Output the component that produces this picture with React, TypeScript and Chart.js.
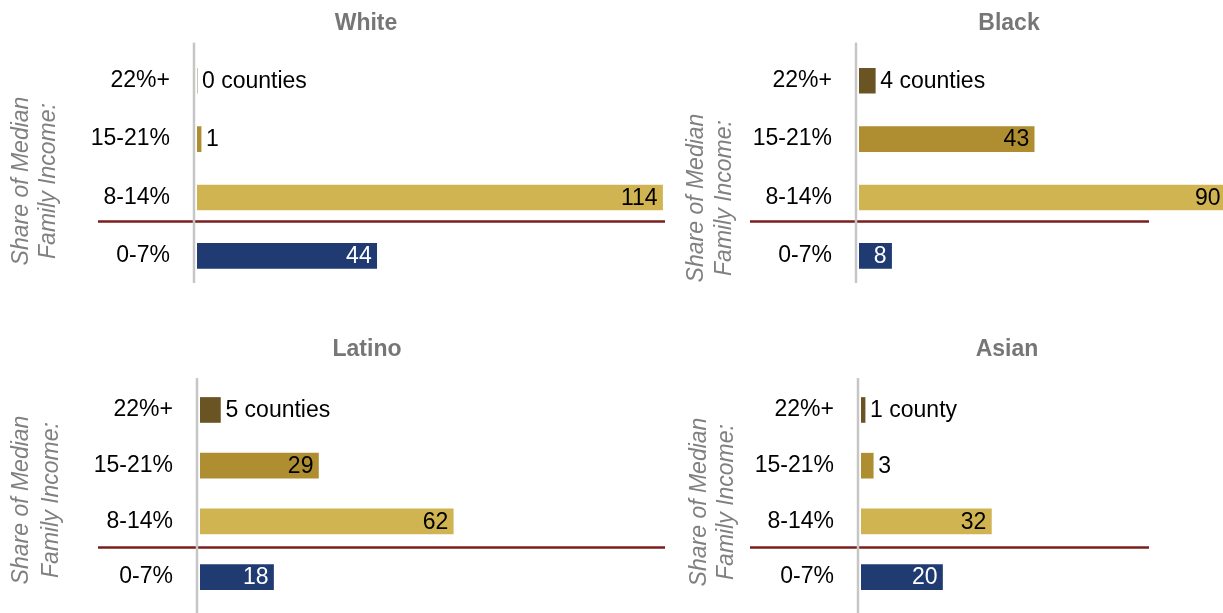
import React, { useEffect, useRef } from "react";
import { Chart, registerables } from "chart.js";

Chart.register(...registerables);

// ---------- data ----------
const categories = ["22%+", "15-21%", "8-14%", "0-7%"];
const whiteValues = [0, 1, 114, 44];
const blackValues = [4, 43, 90, 8];
const latinoValues = [5, 29, 62, 18];
const asianValues = [1, 3, 32, 20];
const panelTitles = ["White", "Black", "Latino", "Asian"];
const axisTitleLines = ["Share of Median", "Family Income:"];

// ---------- styles ----------
const barColors = ["#6b5424", "#ae8e30", "#d1b452", "#1f3b71"];
const insideLabelColors = ["#000000", "#000000", "#000000", "#ffffff"];
const FONT = "'Liberation Sans', Arial, Helvetica, sans-serif";
const FONT_SIZE = 23;
const Y_AXIS_WIDTH = 197;

type Panel = {
  title: string;
  values: number[];
  left: number;
  top: number;
  width: number;
  height: number;
  xMax: number;
  titleBottomPad: number;
  bottomPad: number;
  axisUp: number;
  axisDown: number;
  dividerFrac: number;
  dividerX1: number;
  dividerX2: number;
  rotX1: number;
  rotX2: number;
  rotY: number;
};

const panels: Panel[] = [
  {
    title: panelTitles[0], values: whiteValues,
    left: 0, top: 0, width: 732, height: 306, xMax: 131,
    titleBottomPad: 14, bottomPad: 21, axisUp: 9, axisDown: -2,
    dividerFrac: 0.41, dividerX1: 98, dividerX2: 665,
    rotX1: 22, rotX2: 49, rotY: 181,
  },
  {
    title: panelTitles[1], values: blackValues,
    left: 662, top: 0, width: 694, height: 306, xMax: 122,
    titleBottomPad: 14, bottomPad: 21, axisUp: 9, axisDown: -2,
    dividerFrac: 0.41, dividerX1: 88, dividerX2: 487,
    rotX1: 35, rotX2: 63, rotY: 198,
  },
  {
    title: panelTitles[2], values: latinoValues,
    left: 3, top: 326, width: 728, height: 287, xMax: 130,
    titleBottomPad: 18.5, bottomPad: 8, axisUp: 4, axisDown: 10,
    dividerFrac: 0.47, dividerX1: 95, dividerX2: 662,
    rotX1: 19, rotX2: 49, rotY: 174,
  },
  {
    title: panelTitles[3], values: asianValues,
    left: 664, top: 326, width: 686, height: 287, xMax: 120,
    titleBottomPad: 18.5, bottomPad: 8, axisUp: 4, axisDown: 10,
    dividerFrac: 0.47, dividerX1: 86, dividerX2: 485,
    rotX1: 36, rotX2: 63, rotY: 176,
  },
];

function labelText(index: number, v: number): string {
  if (index === 0) return v === 1 ? `${v} county` : `${v} counties`;
  return `${v}`;
}

function decorPlugin(p: Panel) {
  return {
    id: "decor" + p.title,
    afterDatasetsDraw(chart: any) {
      const { ctx, chartArea, scales } = chart;
      const yS = scales.y;
      ctx.save();
      // divider line between 8-14% and 0-7%
      const y2 = yS.getPixelForValue(2);
      const y3 = yS.getPixelForValue(3);
      const dy = y2 + p.dividerFrac * (y3 - y2);
      ctx.strokeStyle = "#7b1e1e";
      ctx.lineWidth = 2.5;
      ctx.beginPath();
      ctx.moveTo(p.dividerX1, dy);
      ctx.lineTo(p.dividerX2, dy);
      ctx.stroke();
      // vertical axis line
      ctx.strokeStyle = "#c6c6c6";
      ctx.lineWidth = 2.5;
      const ax = chartArea.left - 3;
      ctx.beginPath();
      ctx.moveTo(ax, chartArea.top - p.axisUp);
      ctx.lineTo(ax, chartArea.bottom + p.axisDown);
      ctx.stroke();
      // rotated axis title
      ctx.fillStyle = "#808080";
      ctx.font = `italic ${FONT_SIZE}px ${FONT}`;
      ctx.textAlign = "center";
      ctx.textBaseline = "middle";
      const rx = [p.rotX1, p.rotX2];
      axisTitleLines.forEach((line, i) => {
        ctx.save();
        ctx.translate(rx[i], p.rotY);
        ctx.rotate(-Math.PI / 2);
        ctx.fillText(line, 0, 0);
        ctx.restore();
      });
      // data labels
      ctx.font = `${FONT_SIZE}px ${FONT}`;
      const meta = chart.getDatasetMeta(0);
      meta.data.forEach((el: any, i: number) => {
        const { x, y, base } = el.getProps(["x", "y", "base"], true);
        const v = p.values[i];
        const txt = labelText(i, v);
        const tw = ctx.measureText(txt).width;
        const w = x - base;
        if (i !== 0 && w >= tw + 12) {
          ctx.textAlign = "right";
          ctx.fillStyle = insideLabelColors[i];
          ctx.fillText(txt, x - 5, y + 1);
        } else {
          ctx.textAlign = "left";
          ctx.fillStyle = "#000000";
          ctx.fillText(txt, x + 5, y + 1);
        }
      });
      ctx.restore();
    },
  };
}

function PanelChart({ p }: { p: Panel }) {
  const ref = useRef<HTMLCanvasElement>(null);
  useEffect(() => {
    const canvas = ref.current!;
    const chart = new Chart(canvas, {
      type: "bar",
      data: {
        labels: categories,
        datasets: [
          {
            data: p.values,
            backgroundColor: barColors,
            borderWidth: 0,
            barThickness: 25,
          },
        ],
      },
      options: {
        indexAxis: "y",
        responsive: false,
        animation: false,
        layout: { padding: { left: 0, right: 0, top: 0, bottom: p.bottomPad } },
        scales: {
          x: { display: false, min: 0, max: p.xMax },
          y: {
            grid: { display: false, drawTicks: false },
            border: { display: false },
            ticks: {
              color: "#000000",
              font: { family: FONT, size: FONT_SIZE },
              padding: 27,
            },
            afterFit: (s: any) => {
              s.width = Y_AXIS_WIDTH;
              s.paddingTop = 0;
              s.paddingBottom = 0;
            },
          },
        },
        plugins: {
          legend: { display: false },
          tooltip: { enabled: false },
          title: {
            display: true,
            text: p.title,
            color: "#767676",
            font: { family: FONT, size: FONT_SIZE, weight: "bold" },
            padding: { top: 10, bottom: p.titleBottomPad },
          },
        },
      } as any,
      plugins: [decorPlugin(p)],
    });
    return () => chart.destroy();
  }, []);
  return (
    <canvas
      ref={ref}
      width={p.width}
      height={p.height}
      style={{ position: "absolute", left: p.left, top: p.top, width: p.width, height: p.height }}
    />
  );
}

export default function App() {
  return (
    <div
      style={{
        position: "fixed",
        left: 0,
        top: 0,
        width: 1223,
        height: 613,
        overflow: "hidden",
        background: "#ffffff",
      }}
    >
      {panels.map((p) => (
        <PanelChart key={p.title} p={p} />
      ))}
    </div>
  );
}
